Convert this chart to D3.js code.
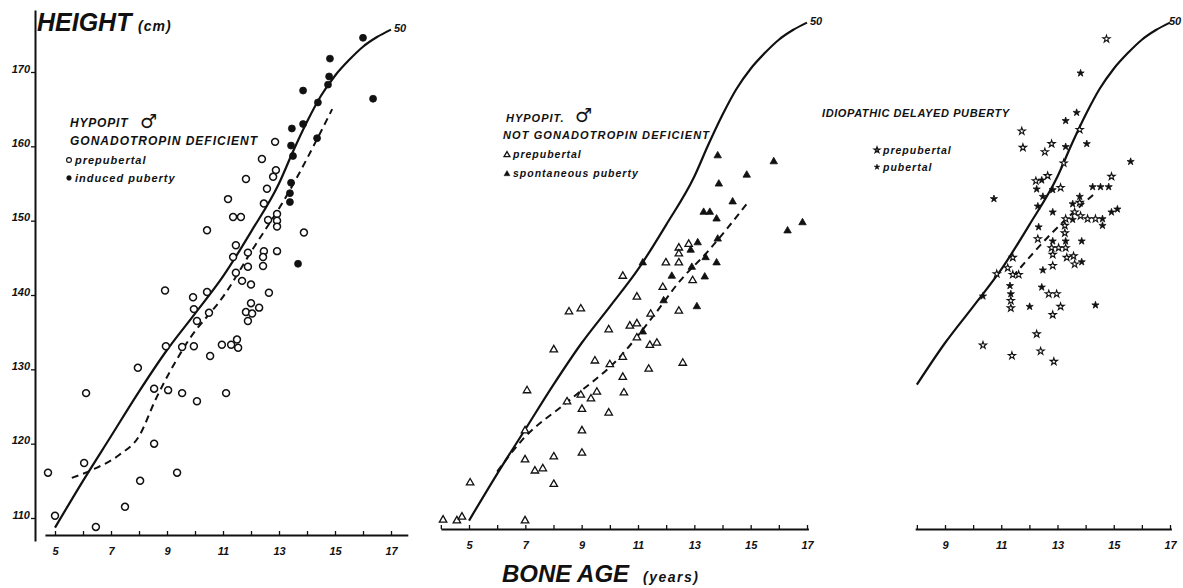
<!DOCTYPE html>
<meta charset="utf-8">
<script src="https://d3js.org/d3.v7.min.js"></script>
<style>
body { margin: 0; background: #fff; }
text { font-family: "Liberation Sans", Arial, sans-serif; font-style: italic; font-weight: bold; fill: #111; }
</style>
<body>
<svg width="1183" height="588"></svg>
<script>
// 50th centile, height (cm) by bone age (years)
var centileAge = [5, 6, 7, 8, 9, 10, 11, 12, 13, 13.5, 14, 14.5, 15, 15.5, 16, 16.5, 17];
var centileHeight = [108.7, 115, 121, 127, 132.6, 137.5, 142.5, 148.5, 155, 159.3, 163.3, 166.8, 169.5, 171.6, 173.4, 174.7, 175.7];

// dashed mean lines
var p1DashAge = [5.6, 6.4, 7.3, 8.0, 8.6, 9.7, 11.1, 12.0, 13.25, 14.9];
var p1DashHeight = [115.4, 116.6, 118.5, 121, 126, 133.5, 140.3, 145.8, 153.2, 165];
var p2DashAge = [6.0, 6.9, 8.5, 10.35, 11.5, 12.5, 13.45, 14.9];
var p2DashHeight = [115.3, 119.6, 124.7, 130.7, 136, 141, 144.8, 151.5];
var p3DashAge = [11.4, 12.8, 14.35];
var p3DashHeight = [141.5, 147.4, 152.8];

var heightTicks = [110, 120, 130, 140, 150, 160, 170];

// panel 1: hypopit, gonadotropin deficient
var p1Prepubertal = [
  [12.86,160.6],[12.39,158.3],[12.89,156.8],[12.79,155.9],[11.82,155.6],[12.57,154.3],[11.18,152.9],
  [12.46,152.3],[12.93,150.9],[11.36,150.5],[11.64,150.5],[12.61,150.1],[12.93,150.0],[12.93,149.2],
  [10.43,148.7],[13.89,148.4],[11.46,146.7],[11.89,145.7],[12.46,145.9],[12.93,145.9],[11.36,145.1],
  [12.43,145.1],[11.89,143.8],[12.43,143.9],[11.46,143.0],[11.68,141.9],[12.0,141.4],[8.93,140.6],
  [9.93,139.7],[10.43,140.4],[12.64,140.3],[9.96,138.1],[10.5,137.6],[10.07,136.5],[12.0,138.9],
  [11.82,137.7],[12.04,137.5],[12.29,138.3],[11.89,136.5],[8.96,133.1],[9.54,133.0],[9.96,133.1],
  [10.96,133.3],[11.29,133.3],[11.5,134.0],[11.54,132.9],[10.54,131.8],[7.96,130.2],[6.11,126.8],
  [8.54,127.4],[9.04,127.2],[9.54,126.8],[10.07,125.7],[11.11,126.8],[8.54,120.0],[6.04,117.4],
  [4.75,116.1],[9.36,116.1],[8.04,115.0],[7.5,111.5],[5.0,110.3],[6.46,108.8]
];
var p1Induced = [
  [16.0,174.6],[14.82,171.8],[14.79,169.4],[14.75,168.3],[16.36,166.4],[13.86,167.5],[14.39,165.9],
  [13.86,163.0],[13.46,162.4],[14.36,161.1],[13.43,160.1],[13.5,158.7],[13.43,155.1],[13.39,153.7],
  [13.39,152.5],[13.68,144.2]
];

// panel 2: hypopit, not gonadotropin deficient
var p2Prepubertal = [
  [12.8,145.9],[12.45,145.4],[12.45,144.6],[11.99,143.4],[12.45,143.4],[10.46,141.6],[12.94,141.0],
  [11.88,140.1],[10.96,138.8],[8.55,136.8],[8.97,137.2],[9.96,134.4],[10.71,134.9],[10.96,135.2],
  [11.45,136.5],[12.45,136.9],[10.96,133.3],[11.42,132.3],[11.67,132.6],[8.01,131.7],[9.47,130.2],
  [10.0,129.7],[10.46,130.7],[11.38,129.1],[12.59,129.9],[10.46,128.0],[7.06,126.2],[8.97,125.6],
  [9.54,126.0],[10.5,125.9],[8.48,124.7],[9.33,125.1],[9.01,123.7],[9.96,123.2],[6.99,120.8],
  [9.01,120.8],[9.01,117.8],[6.99,116.9],[8.01,117.3],[7.34,115.4],[7.62,115.7],[8.01,113.6],
  [5.04,113.8],[4.08,108.8],[4.57,108.7],[4.75,109.2],[6.99,108.7]
];
var p2Spontaneous = [
  [13.83,157.8],[15.82,157.0],[14.86,155.2],[13.87,154.0],[14.36,151.6],[13.33,150.2],[13.55,150.2],
  [13.79,149.3],[16.84,148.8],[16.31,147.7],[13.83,146.6],[13.12,146.1],[12.87,145.1],[13.4,144.1],
  [13.79,143.4],[12.91,142.8],[12.2,141.6],[13.37,141.5],[11.17,143.4],[11.91,138.3],[13.09,137.5],
  [11.17,134.1]
];

// panel 3: idiopathic delayed puberty
var p3Prepubertal = [
  [14.74,173.5],[13.79,161.3],[11.73,161.1],[11.77,158.9],[12.55,158.3],[12.79,159.4],[13.22,156.8],
  [12.23,154.4],[12.65,155.1],[13.11,153.5],[14.92,155.0],[13.79,151.5],[13.61,150.2],[13.29,149.3],
  [13.82,149.7],[14.07,149.3],[14.35,149.3],[13.26,148.4],[13.26,147.4],[12.3,146.6],[12.79,145.4],
  [13.04,145.4],[13.29,145.4],[12.83,144.5],[13.33,144.1],[13.57,144.3],[13.61,143.2],[11.41,144.1],
  [12.83,143.0],[11.23,142.7],[11.62,141.8],[11.41,141.8],[10.84,141.9],[12.69,139.2],[12.97,139.2],
  [11.34,138.3],[11.34,137.3],[13.11,137.5],[12.83,136.4],[12.26,133.8],[10.35,132.3],[12.4,131.5],
  [11.38,130.9],[12.87,130.1]
];
var p3Pubertal = [
  [13.82,168.9],[13.68,163.6],[13.29,162.5],[13.29,159.0],[14.04,159.4],[15.6,157.0],[12.44,154.5],
  [12.26,153.3],[12.83,153.2],[14.25,153.6],[14.53,153.6],[14.82,153.6],[13.79,152.3],[13.54,151.3],
  [10.74,152.0],[12.48,152.3],[12.3,151.0],[12.83,150.2],[14.92,150.2],[15.13,150.6],[13.54,149.2],
  [14.6,149.3],[14.6,148.4],[12.33,148.2],[12.83,146.3],[13.29,146.3],[13.86,146.3],[13.86,143.5],
  [12.48,142.4],[11.31,140.3],[12.44,140.1],[10.35,138.9],[11.34,139.2],[12.01,137.5],[14.35,137.7]
];

var svg = d3.select("svg");
svg.append("rect").attr("width", 1183).attr("height", 588).attr("fill", "#fff");

var panels = [
  { x: d3.scaleLinear().domain([5, 17]).range([55, 391]),
    y: d3.scaleLinear().domain([110, 170]).range([518, 72]),
    axisY: 535, axisFrom: 4.64, axisTo: 17.6, ticks: d3.range(5, 18),
    curveFrom: 5, curveTo: 17, dashAge: p1DashAge, dashHeight: p1DashHeight },
  { x: d3.scaleLinear().domain([5, 17]).range([469, 807]),
    y: d3.scaleLinear().domain([110, 170]).range([511, 65]),
    axisY: 529, axisFrom: 4.0, axisTo: 17.05, ticks: d3.range(4, 18),
    curveFrom: 5, curveTo: 17, dashAge: p2DashAge, dashHeight: p2DashHeight },
  { x: d3.scaleLinear().domain([9, 17]).range([945, 1170]),
    y: d3.scaleLinear().domain([110, 170]).range([511, 65]),
    axisY: 529, axisFrom: 7.94, axisTo: 17.05, ticks: d3.range(8, 18),
    curveFrom: 8, curveTo: 17, dashAge: p3DashAge, dashHeight: p3DashHeight }
];

var circleSym = d3.symbol().type(d3.symbolCircle).size(38);
var triSym = d3.symbol().type(d3.symbolTriangle).size(24);
var starSym = d3.symbol().type(d3.symbolStar).size(16);

panels.forEach(function(p) {
  // x axis
  var s = p.x.copy().domain([p.axisFrom, p.axisTo]).range([p.x(p.axisFrom), p.x(p.axisTo)]);
  var g = svg.append("g").attr("transform", "translate(0," + p.axisY + ")")
    .call(d3.axisBottom(s).tickValues(p.ticks).tickSizeInner(-4).tickSizeOuter(0).tickPadding(12)
      .tickFormat(function(d) { return d % 2 ? d : ""; }));
  g.select(".domain").attr("stroke", "#111").attr("stroke-width", 2);
  g.selectAll(".tick line").attr("stroke", "#111").attr("stroke-width", 1.3);
  g.selectAll("text").attr("font-size", 11).attr("fill", "#111");

  // 50th centile
  var pts = centileAge.map(function(a, i) { return [a, centileHeight[i]]; })
    .filter(function(d) { return d[0] >= p.curveFrom && d[0] <= p.curveTo; });
  var line = d3.line().curve(d3.curveMonotoneX)
    .x(function(d) { return p.x(d[0]); }).y(function(d) { return p.y(d[1]); });
  svg.append("path").datum(pts).attr("d", line)
    .attr("fill", "none").attr("stroke", "#111").attr("stroke-width", 2.2);
  var last = pts[pts.length - 1];
  svg.append("text").attr("x", Math.min(p.x(last[0]) + 3, 1169)).attr("y", p.y(last[1]) + 2)
    .attr("font-size", 11).text("50");

  // dashed mean
  var dpts = p.dashAge.map(function(a, i) { return [a, p.dashHeight[i]]; });
  svg.append("path").datum(dpts).attr("d", line)
    .attr("fill", "none").attr("stroke", "#111").attr("stroke-width", 2)
    .attr("stroke-dasharray", "7,5");
});

function plot(p, data, sym, filled, sw) {
  svg.append("g").selectAll("path").data(data).enter().append("path")
    .attr("transform", function(d) { return "translate(" + p.x(d[0]) + "," + p.y(d[1]) + ")"; })
    .attr("d", sym)
    .attr("fill", filled ? "#111" : "#fff")
    .attr("stroke", "#111")
    .attr("stroke-width", sw);
}
plot(panels[0], p1Prepubertal, circleSym, false, 1.5);
plot(panels[0], p1Induced, circleSym, true, 0.8);
plot(panels[1], p2Prepubertal, triSym, false, 1.3);
plot(panels[1], p2Spontaneous, triSym, true, 0.8);
plot(panels[2], p3Prepubertal, starSym, false, 1.1);
plot(panels[2], p3Pubertal, starSym, true, 0.8);

// y axis (panel 1 only)
var p1 = panels[0];
var ys = p1.y.copy().domain([p1.y.invert(541), p1.y.invert(10)]).range([541, 10]);
var ga = svg.append("g").attr("transform", "translate(35,0)")
  .call(d3.axisLeft(ys).tickValues(heightTicks).tickSizeInner(4).tickSizeOuter(0).tickPadding(1));
ga.select(".domain").attr("stroke", "#111").attr("stroke-width", 2);
ga.selectAll(".tick line").attr("stroke", "#111").attr("stroke-width", 1.3);
ga.selectAll("text").attr("dy", "0").attr("font-size", 11).attr("fill", "#111");

// axis titles
svg.append("text").attr("x", 37).attr("y", 31).attr("font-size", 25).text("HEIGHT");
svg.append("text").attr("x", 138).attr("y", 31).attr("font-size", 14).attr("letter-spacing", 1).text("(cm)");
svg.append("text").attr("x", 502).attr("y", 582).attr("font-size", 24).text("BONE AGE");
svg.append("text").attr("x", 643).attr("y", 582).attr("font-size", 14).attr("letter-spacing", 1.5).text("(years)");

// legends
function label(x, y, size, spacing, str) {
  return svg.append("text").attr("x", x).attr("y", y).attr("font-size", size)
    .attr("letter-spacing", spacing).text(str);
}
function male(x, y) {
  svg.append("text").attr("x", x).attr("y", y).attr("font-size", 19)
    .style("font-family", "'DejaVu Sans'").style("font-style", "normal").style("font-weight", "normal")
    .text("\u2642");
}
function marker(x, y, sym, filled, scale) {
  svg.append("path").attr("transform", "translate(" + x + "," + y + ") scale(" + scale + ")")
    .attr("d", sym).attr("fill", filled ? "#111" : "#fff").attr("stroke", "#111")
    .attr("stroke-width", filled ? 0.6 : 1.6);
}

label(70, 127, 12, 0.8, "HYPOPIT");
male(140, 128);
label(70, 145, 12, 1, "GONADOTROPIN DEFICIENT");
marker(69, 160, circleSym, false, 0.7);
label(75, 164, 11, 1, "prepubertal");
marker(69, 178, circleSym, true, 0.7);
label(75, 182, 11, 1, "induced puberty");

label(506, 122, 11, 1, "HYPOPIT.");
male(575, 122);
label(503, 139, 11, 1.1, "NOT GONADOTROPIN DEFICIENT");
marker(507, 155, triSym, false, 0.8);
label(513, 158, 10.5, 1, "prepubertal");
marker(507, 174, triSym, true, 0.8);
label(513, 177, 10.5, 1, "spontaneous puberty");

label(822, 117, 11, 0.6, "IDIOPATHIC DELAYED PUBERTY");
marker(877, 150, starSym, false, 0.8);
label(883, 154, 10.5, 1, "prepubertal");
marker(877, 167, starSym, true, 0.8);
label(883, 171, 10.5, 1, "pubertal");
</script>
</body>
